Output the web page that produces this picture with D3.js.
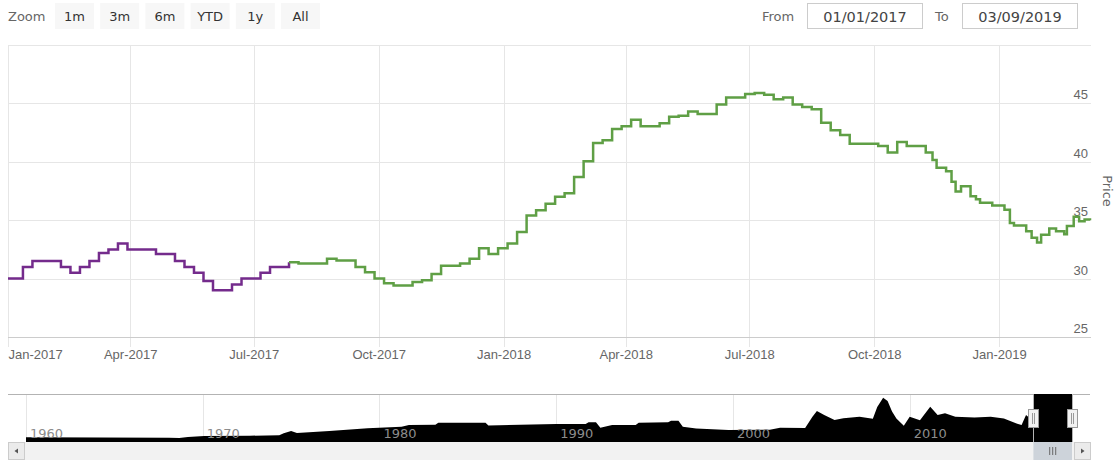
<!DOCTYPE html>
<html>
<head>
<meta charset="utf-8">
<script src="https://d3js.org/d3.v7.min.js"></script>
<style>
  body { margin: 0; background: #fff; }
  svg { display: block; font-family: "DejaVu Sans", Verdana, sans-serif; }
</style>
</head>
<body>
<svg id="chart" width="1114" height="462"></svg>
<script>
// weekly price steps (value holds from that date until the next one)
const priceDates = [
  "2017-01-01","2017-01-12","2017-01-19","2017-02-09","2017-02-16","2017-02-23","2017-03-02","2017-03-09",
  "2017-03-16","2017-03-23","2017-03-30","2017-04-20","2017-05-04","2017-05-11","2017-05-18","2017-05-25",
  "2017-06-01","2017-06-15","2017-06-22","2017-07-06","2017-07-13","2017-07-27","2017-08-03","2017-08-24",
  "2017-08-31","2017-09-14","2017-09-21","2017-09-28","2017-10-05","2017-10-12","2017-10-26","2017-11-02",
  "2017-11-09","2017-11-16","2017-11-30","2017-12-07","2017-12-14","2017-12-21","2017-12-28","2018-01-04",
  "2018-01-11","2018-01-18","2018-01-25","2018-02-01","2018-02-08","2018-02-15","2018-02-22","2018-03-01",
  "2018-03-08","2018-03-15","2018-03-22","2018-03-29","2018-04-05","2018-04-12","2018-04-26","2018-05-03",
  "2018-05-10","2018-05-17","2018-05-24","2018-06-07","2018-06-14","2018-06-28","2018-07-05","2018-07-12",
  "2018-07-19","2018-07-26","2018-08-02","2018-08-09","2018-08-16","2018-08-23","2018-08-30","2018-09-06",
  "2018-09-13","2018-10-04","2018-10-11","2018-10-18","2018-10-25","2018-11-08","2018-11-13","2018-11-16",
  "2018-11-23","2018-11-27","2018-11-30","2018-12-04","2018-12-11","2018-12-15","2018-12-18","2018-12-27",
  "2019-01-05","2019-01-09","2019-01-12","2019-01-21","2019-01-25","2019-01-29","2019-02-01","2019-02-07",
  "2019-02-12","2019-02-18","2019-02-20","2019-02-25","2019-03-01","2019-03-05","2019-03-09"
];
const priceValues = [
  30.0, 31.0, 31.5, 31.0, 30.5, 31.0, 31.5, 32.2,
  32.5, 33.0, 32.5, 32.1, 31.5, 31.0, 30.5, 29.8,
  29.0, 29.5, 30.0, 30.5, 31.0, 31.4, 31.3, 31.7,
  31.55, 31.0, 30.55, 30.0, 29.6, 29.4, 29.7, 29.85,
  30.4, 31.1, 31.3, 31.7, 32.6, 32.1, 32.6, 33.0,
  34.0, 35.4, 35.85, 36.4, 37.0, 37.3, 38.7, 40.05,
  41.6, 41.85, 42.8, 43.05, 43.6, 43.05, 43.3, 43.85,
  43.95, 44.3, 44.1, 44.9, 45.5, 45.8, 45.9, 45.75,
  45.35, 45.5, 44.9, 44.7, 44.5, 43.35, 42.7, 42.3,
  41.55, 41.35, 40.8, 41.7, 41.35, 40.8, 40.15, 39.5,
  39.2, 38.3, 37.45, 37.9, 37.05, 36.8, 36.5, 36.25,
  35.9, 34.75, 34.55, 34.05, 33.5, 33.1, 33.75, 34.3,
  34.05, 33.8, 34.5, 35.3, 34.9, 35.05, 35.0
];
const zoneEnd = "2017-07-27";   // purple before, green after

// long history shown in the navigator (before 2017)
const navDates = [
  "1960-01","1964-03","1968-02","1968-09","1969-03","1970-02","1972-09","1974-05","1974-08","1975-01",
  "1975-05","1977-03","1979-05","1981-04","1981-09","1983-03","1983-05","1986-01","1986-03","1990-01",
  "1991-09","1991-11","1992-04","1992-07","1993-03","1994-07","1994-09","1996-05","1996-07","1996-12",
  "1997-03","1997-12","1999-10","2002-02","2002-09","2004-02","2004-07","2004-10","2005-03","2005-10",
  "2006-04","2007-03","2007-12","2008-03","2008-07","2008-10","2009-01","2009-04","2009-09","2010-01",
  "2010-08","2011-03","2011-08","2012-01","2012-08","2013-09","2014-08","2015-05","2016-02","2016-05",
  "2016-08","2016-10"
];
const navValues = [
  5.4, 5.3, 4.9, 4.5, 5.7, 6.9, 7.2, 7.8, 10.0, 12.6,
  10.2, 12.5, 15.7, 17.5, 19.5, 19.8, 22.1, 22.1, 19.0, 20.6,
  20.6, 22.5, 22.5, 16.4, 19.5, 19.5, 22.1, 22.5, 24.4, 24.4,
  17.5, 15.5, 13.7, 14.0, 16.4, 16.0, 29.0, 35.5, 31.0, 25.2,
  27.1, 29.0, 26.5, 40.0, 50.8, 47.0, 35.0, 27.0, 18.7, 29.0,
  25.0, 40.4, 31.0, 33.0, 29.0, 28.0, 29.0, 27.0, 21.0, 19.5,
  31.0, 28.0
];

const yTicks = [25, 30, 35, 40, 45, 50];
const zoomButtons = ["1m", "3m", "6m", "YTD", "1y", "All"];
const fromLabel = "01/01/2017";
const toLabel = "03/09/2019";

const svg = d3.select("svg#chart");
const parseDay = d3.timeParse("%Y-%m-%d");
const parseMonth = d3.timeParse("%Y-%m");

const prices = priceDates.map((d, i) => ({ date: parseDay(d), value: priceValues[i] }));
const zoneDate = parseDay(zoneEnd);

// ---- main plot ----
const pLeft = 8, pRight = 1090, pTop = 45, pBottom = 337;
const x = d3.scaleTime()
  .domain([parseDay("2017-01-01"), parseDay("2019-03-09")])
  .range([pLeft, pRight]);
const y = d3.scaleLinear().domain([25, 50]).range([pBottom, pTop]);

const quarters = d3.timeMonth.every(3).range(parseDay("2017-01-01"), parseDay("2019-03-01"));

const grid = svg.append("g");
grid.selectAll("line.h").data(yTicks).join("line")
  .attr("class", "h")
  .attr("x1", pLeft).attr("x2", pRight + 1)
  .attr("y1", d => Math.round(y(d)) + 0.5).attr("y2", d => Math.round(y(d)) + 0.5)
  .attr("stroke", "#e6e6e6");
grid.selectAll("line.v").data(quarters).join("line")
  .attr("class", "v")
  .attr("x1", d => Math.round(x(d)) + 0.5).attr("x2", d => Math.round(x(d)) + 0.5)
  .attr("y1", pTop).attr("y2", pBottom + 10)
  .attr("stroke", "#e6e6e6");

// x axis
const xAxis = svg.append("g")
  .attr("transform", `translate(0,${Math.round(pBottom) + 0.5})`)
  .call(d3.axisBottom(x).tickValues(quarters).tickSize(0).tickPadding(12)
    .tickFormat(d3.timeFormat("%b-%Y")));
xAxis.select(".domain").attr("stroke", "#cccccc").attr("d", `M${pLeft},0H${pRight + 1}`);
xAxis.selectAll("text").attr("fill", "#666").style("font-size", "13px")
  .attr("font-family", null);
xAxis.selectAll(".tick").filter((d, i) => i === 0).select("text").attr("text-anchor", "start");

// y axis (labels inside, on the right)
const yAxis = svg.append("g")
  .attr("transform", `translate(${pRight - 2},0)`)
  .call(d3.axisLeft(y).tickValues(yTicks.slice(0, -1)).tickSize(0).tickPadding(0));
yAxis.select(".domain").remove();
yAxis.selectAll("text").attr("fill", "#666").style("font-size", "13px")
  .attr("font-family", null).attr("dy", "-0.35em");

svg.append("text")
  .attr("transform", `translate(1103,${(pTop + pBottom) / 2}) rotate(90)`)
  .attr("text-anchor", "middle")
  .attr("fill", "#666").style("font-size", "13px")
  .text("Price");

// price line
const line = d3.line().x(d => x(d.date)).y(d => y(d.value)).curve(d3.curveStepAfter);
const purple = prices.filter(d => d.date <= zoneDate);
const green = prices.filter(d => d.date >= zoneDate);
svg.append("path").datum(purple).attr("d", line)
  .attr("fill", "none").attr("stroke", "#742b8c").attr("stroke-width", 2.5);
svg.append("path").datum(green).attr("d", line)
  .attr("fill", "none").attr("stroke", "#5f9f45").attr("stroke-width", 2.5);

// ---- range selector ----
const fs = svg.append("g").style("font-size", "13px");
fs.append("text").attr("x", 8).attr("y", 21).attr("fill", "#666").text("Zoom");
const btn = fs.selectAll("g.btn").data(zoomButtons).join("g")
  .attr("class", "btn")
  .attr("transform", (d, i) => `translate(${55 + i * 45.2},3)`);
btn.append("rect").attr("width", 39).attr("height", 26).attr("fill", "#f7f7f7");
btn.append("text").attr("x", 19.5).attr("y", 18).attr("text-anchor", "middle")
  .attr("fill", "#333").text(d => d);

fs.append("text").attr("x", 762).attr("y", 21).attr("fill", "#666").text("From");
fs.append("text").attr("x", 935).attr("y", 21).attr("fill", "#666").text("To");
[[807, fromLabel], [962, toLabel]].forEach(([bx, t]) => {
  fs.append("rect").attr("x", bx + 0.5).attr("y", 3.5).attr("width", 115).attr("height", 25)
    .attr("fill", "#fff").attr("stroke", "#cccccc");
  fs.append("text").attr("x", bx + 58).attr("y", 22).attr("text-anchor", "middle")
    .attr("fill", "#444").style("font-size", "14.5px").text(t);
});

// ---- navigator ----
const nTop = 394, nBottom = 442, nLeft = 26, nRight = 1072;
const nx = d3.scaleTime()
  .domain([parseMonth("1960-01"), parseDay("2019-03-09")])
  .range([nLeft, nRight]);
const ny = d3.scaleLinear().domain([0, 55]).range([nBottom, nTop]);
const navData = navDates.map((d, i) => ({ date: parseMonth(d), value: navValues[i] })).concat(prices);
const decades = d3.timeYear.every(10).range(parseMonth("1960-01"), parseMonth("2019-01"));

svg.append("g").selectAll("line").data(decades).join("line")
  .attr("x1", d => Math.round(nx(d)) + 0.5).attr("x2", d => Math.round(nx(d)) + 0.5)
  .attr("y1", nTop).attr("y2", nBottom)
  .attr("stroke", "#e6e6e6");

svg.append("path").datum(navData)
  .attr("d", d3.area().x(d => nx(d.date)).y0(nBottom).y1(d => ny(d.value)))
  .attr("fill", "#000");

svg.append("g").selectAll("text").data(decades).join("text")
  .attr("x", d => nx(d) + 4).attr("y", 438)
  .attr("fill", "#8c8c8c").style("font-size", "13px")
  .text(d3.timeFormat("%Y"));

// selected range mask + outline
const selA = nx(parseDay("2017-01-01")), selB = nRight;
svg.append("rect").attr("x", selA).attr("y", nTop).attr("width", selB - selA).attr("height", nBottom - nTop)
  .attr("fill", "#000");
svg.append("path")
  .attr("d", `M${pLeft},${nTop + 0.5}H${Math.round(selA) + 0.5}V${nBottom}M${Math.round(selB) + 0.5},${nBottom}V${nTop + 0.5}H${pRight}`)
  .attr("fill", "none").attr("stroke", "#b3b3b3");

[selA, selB].forEach(hx => {
  const h = svg.append("g").attr("transform", `translate(${Math.round(hx) - 5},409)`);
  h.append("rect").attr("x", 0.5).attr("y", 0.5).attr("width", 10).attr("height", 18)
    .attr("fill", "#f2f2f2").attr("stroke", "#999");
  h.append("path").attr("d", "M4.5,4V15M6.5,4V15").attr("stroke", "#999");
});

// scrollbar
const sb = svg.append("g");
sb.append("rect").attr("x", pLeft).attr("y", 442).attr("width", pRight - pLeft).attr("height", 18)
  .attr("fill", "#f2f2f2");
sb.append("rect").attr("x", selA).attr("y", 442).attr("width", selB - selA).attr("height", 18)
  .attr("fill", "#cdd3da");
sb.append("path").attr("d", `M${(selA + selB) / 2 - 3},447V455M${(selA + selB) / 2},447V455M${(selA + selB) / 2 + 3},447V455`)
  .attr("stroke", "#666");
[[pLeft, -1], [pRight - 16, 1]].forEach(([bx, dir]) => {
  sb.append("rect").attr("x", bx + 0.5).attr("y", 442.5).attr("width", 16).attr("height", 17)
    .attr("fill", "#ebebeb").attr("stroke", "#cccccc");
  const cx = bx + 8.5, cy = 451;
  sb.append("path")
    .attr("d", `M${cx + dir * 2},${cy}L${cx - dir * 1.5},${cy - 2.5}L${cx - dir * 1.5},${cy + 2.5}Z`)
    .attr("fill", "#555");
});
</script>
</body>
</html>
